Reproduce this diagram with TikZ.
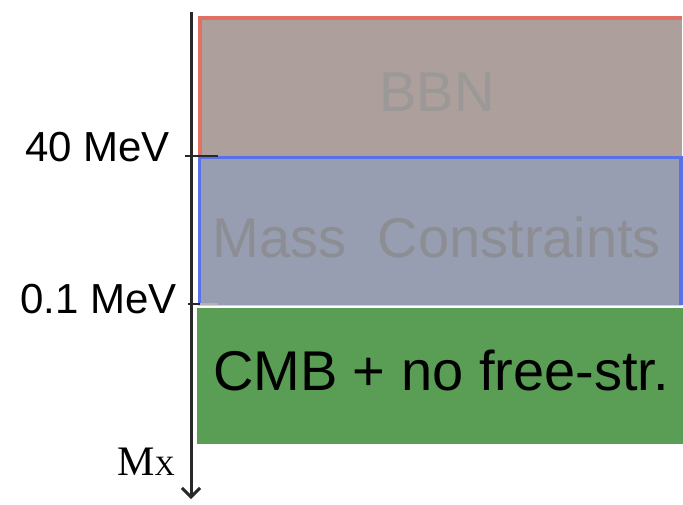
\documentclass[tikz,border=0pt]{standalone}
\usepackage{fontspec}
\setmainfont{Liberation Sans}
\newfontfamily\serifx{Liberation Serif}
\usetikzlibrary{arrows.meta}
\definecolor{bbnfill}{RGB}{173,159,156}
\definecolor{bbntext}{RGB}{155,152,152}
\definecolor{bbnedge}{RGB}{226,112,98}
\definecolor{massfill}{RGB}{152,158,177}
\definecolor{masstext}{RGB}{140,142,148}
\definecolor{massedge}{RGB}{88,112,232}
\definecolor{cmbfill}{RGB}{90,158,85}
\definecolor{axiscol}{RGB}{40,40,40}
\tikzset{
  band/.style={rectangle, draw=none, anchor=north west, inner sep=0pt},
  bigtxt/.style={font=\fontsize{56}{60}\selectfont, anchor=base, inner sep=0pt},
  lbltxt/.style={font=\fontsize{42}{46}\selectfont, anchor=base west, inner sep=0pt},
  tick/.style={line width=2pt, draw=axiscol},
}
\begin{document}
\begin{tikzpicture}[x=1pt,y=-1pt]
\useasboundingbox (0,0) rectangle (683,505);
% bands
\node[band, fill=bbnfill, minimum width=484pt, minimum height=136pt] (bbn) at (198,20) {};
\node[band, fill=massfill, minimum width=484pt, minimum height=146pt] (mass) at (198,159) {};
\node[band, fill=cmbfill, minimum width=486pt, minimum height=136pt] (cmb) at (197,308) {};
% edges
\draw[bbnedge, line width=4pt] ([xshift=1.5pt]bbn.south west) -- ([xshift=1.5pt,yshift=1.5pt]bbn.north west) -- ([yshift=1.5pt]bbn.north east);
\draw[gray!35, line width=1.5pt] (bbn.south west) -- (bbn.south east);
\draw[massedge, line width=3.5pt] ([xshift=1.5pt]mass.south west) -- ([xshift=1.5pt,yshift=1.5pt]mass.north west) -- ([xshift=-1.5pt,yshift=1.5pt]mass.north east) -- ([xshift=-1.5pt]mass.south east);
\draw[gray!35, line width=1.5pt] (mass.south west) -- (mass.south east);
% band texts
\node[bigtxt, text=bbntext] (tbbn) at (437,112) {BBN};
\node[bigtxt, text=masstext] (tmass) at (437,258) {Mass~~Constraints};
\node[bigtxt, text=black] (tcmb) at (441,390) {CMB + no free-str.};
% axis
\coordinate (atop) at (191,12);
\coordinate (abot) at (191,499);
\draw[axiscol, line width=3pt, -{Straight Barb[length=9pt,width=18pt,line width=3pt]}] (atop) -- (abot);
% ticks
\coordinate (t1a) at (185,156);
\coordinate (t1b) at (218,156);
\draw[tick] (t1a) -- (t1b);
\coordinate (t2a) at (188,304);
\coordinate (t2b) at (200,304);
\coordinate (t2c) at (218,304);
\draw[tick] (t2a) -- (t2b);
\draw[gray!60, line width=2pt] (t2b) -- (t2c);
% labels
\node[lbltxt] (l40) at (25,162) {40 MeV};
\node[lbltxt] (l01) at (20,313) {0.1 MeV};
\node[anchor=base west, inner sep=0pt, font=\serifx\fontsize{42}{46}\selectfont] (mx) at (117,475) {M{\fontsize{28}{30}\selectfont X}};
\end{tikzpicture}
\end{document}
